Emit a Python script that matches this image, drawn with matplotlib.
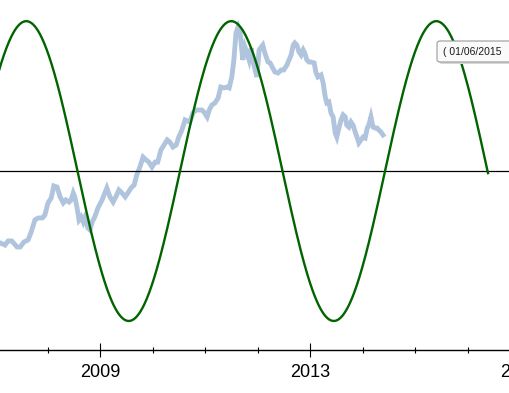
import matplotlib
matplotlib.use("Agg")
import numpy as np
import matplotlib.pyplot as plt
from matplotlib.patches import FancyBboxPatch
from matplotlib.ticker import FixedLocator, MultipleLocator

# price series (decimal year, price)
years = [2007.05, 2007.10, 2007.19, 2007.25, 2007.32, 2007.42, 2007.48, 2007.55, 2007.63, 2007.69,
         2007.76, 2007.82, 2007.90, 2007.95, 2008.01, 2008.07, 2008.12, 2008.18, 2008.24, 2008.30,
         2008.35, 2008.41, 2008.45, 2008.49, 2008.52, 2008.56, 2008.60, 2008.64, 2008.68, 2008.71,
         2008.77, 2008.81, 2008.85, 2008.90, 2008.96, 2009.04, 2009.10, 2009.13, 2009.19, 2009.25,
         2009.30, 2009.36, 2009.42, 2009.48, 2009.53, 2009.59, 2009.65, 2009.70, 2009.76, 2009.82,
         2009.88, 2009.93, 2009.99, 2010.05, 2010.10, 2010.16, 2010.22, 2010.28, 2010.33, 2010.39,
         2010.45, 2010.50, 2010.56, 2010.62, 2010.71, 2010.77, 2010.83, 2010.89, 2010.94, 2010.98,
         2011.04, 2011.08, 2011.13, 2011.19, 2011.25, 2011.30, 2011.36, 2011.42, 2011.46, 2011.51,
         2011.55, 2011.59, 2011.63, 2011.67, 2011.70, 2011.72, 2011.76, 2011.80, 2011.84, 2011.88,
         2011.91, 2011.95, 2011.99, 2012.03, 2012.07, 2012.10, 2012.14, 2012.20, 2012.24, 2012.28,
         2012.33, 2012.39, 2012.45, 2012.50, 2012.56, 2012.60, 2012.64, 2012.68, 2012.71, 2012.75,
         2012.79, 2012.83, 2012.87, 2012.90, 2012.94, 2012.98, 2013.02, 2013.08, 2013.11, 2013.15,
         2013.21, 2013.25, 2013.29, 2013.32, 2013.36, 2013.40, 2013.44, 2013.48, 2013.51, 2013.55,
         2013.59, 2013.63, 2013.67, 2013.70, 2013.74, 2013.78, 2013.82, 2013.86, 2013.90, 2013.93,
         2013.97, 2014.01, 2014.05, 2014.09, 2014.12, 2014.16, 2014.20, 2014.24, 2014.28, 2014.31,
         2014.35, 2014.39]
prices = [655, 658, 646, 669, 669, 635, 635, 663, 675, 720,
          788, 799, 799, 816, 884, 912, 980, 974, 918, 884,
          901, 889, 901, 940, 918, 861, 788, 805, 776, 799,
          742, 731, 776, 805, 855, 901, 946, 968, 918, 889,
          918, 957, 940, 918, 940, 968, 985, 1042, 1087, 1143,
          1127, 1115, 1087, 1115, 1115, 1183, 1211, 1240, 1228, 1200,
          1211, 1256, 1296, 1353, 1341, 1392, 1409, 1409, 1409, 1398,
          1370, 1409, 1437, 1449, 1477, 1539, 1534, 1539, 1534, 1596,
          1692, 1844, 1878, 1844, 1748, 1692, 1765, 1731, 1692, 1759,
          1692, 1640, 1596, 1748, 1765, 1776, 1731, 1680, 1675, 1652,
          1624, 1618, 1635, 1635, 1663, 1692, 1720, 1776, 1788, 1776,
          1737, 1720, 1748, 1731, 1692, 1680, 1680, 1675, 1624, 1596,
          1607, 1562, 1483, 1449, 1454, 1392, 1370, 1279, 1256, 1307,
          1353, 1381, 1370, 1324, 1313, 1341, 1324, 1285, 1251, 1223,
          1240, 1256, 1251, 1307, 1324, 1370, 1313, 1307, 1307, 1296,
          1285, 1268]

# cycle line
cycle_center = 1064
cycle_amp = 847
cycle_period = 3.905       # years
cycle_upcross = 2010.524   # rising zero crossing
cycle_from, cycle_to = 2006.8, 2016.39

major_years = [2009, 2013, 2017]
tooltip_text = "( 01/06/2015"

fig = plt.figure(figsize=(5.10, 3.93), dpi=100)
W, H = 510, 393
# axes runs past the right edge (picture is a crop)
ax = fig.add_axes([0, 43 / H, 540 / W, 350 / H])
ax.set_xlim(2007.095, 2007.095 + 540 / 52.5)
ax.set_ylim(53.05, 2030.55)

ax.plot(years, prices, color="#b0c4de", lw=3.5, solid_joinstyle="miter", zorder=2)
ax.axhline(cycle_center, color="black", lw=0.9, zorder=3)

t = np.linspace(cycle_from, cycle_to, 600)
ax.plot(t, cycle_center + cycle_amp * np.sin(2 * np.pi * (t - cycle_upcross) / cycle_period),
        color="#006400", lw=1.7, zorder=4)

for s in ["left", "right", "top"]:
    ax.spines[s].set_visible(False)
ax.spines["bottom"].set_linewidth(1.0)
ax.set_yticks([])
ax.xaxis.set_major_locator(FixedLocator(major_years))
ax.xaxis.set_minor_locator(MultipleLocator(1))
ax.set_xticklabels([str(y) for y in major_years])
ax.tick_params(axis="x", which="major", direction="inout", length=10, width=0.8,
               pad=5, labelsize=13)
ax.tick_params(axis="x", which="minor", direction="inout", length=4.5, width=0.8)
for lab in ax.get_xticklabels():
    lab.set_family(["Liberation Sans", "DejaVu Sans"])

# tooltip box at top right
shadow = FancyBboxPatch((439 / W, (H - 64) / H), 100 / W, 21 / H,
                        boxstyle="round,pad=0,rounding_size=0.006",
                        transform=fig.transFigure, fc="#d8d8d8", ec="none", zorder=10)
box = FancyBboxPatch((437 / W, (H - 62) / H), 100 / W, 21 / H,
                     boxstyle="round,pad=0,rounding_size=0.006",
                     transform=fig.transFigure, fc="#fafafa", ec="#9a9a9a", lw=0.8, zorder=11)
fig.add_artist(shadow)
fig.add_artist(box)
fig.text(443 / W, 1 - 52 / H, tooltip_text, ha="left", va="center", fontsize=7.5,
         family=["Liberation Sans", "DejaVu Sans"], color="#1a1a1a", zorder=12)

fig.savefig("out.png", dpi=100)
